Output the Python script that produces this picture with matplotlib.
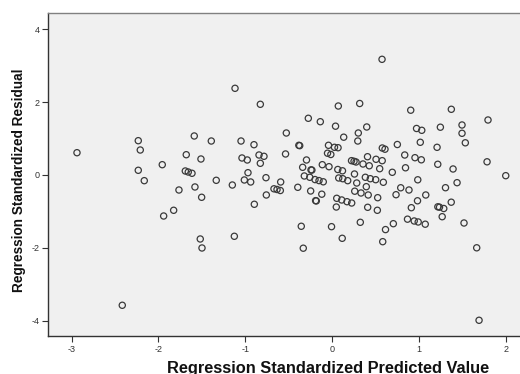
import matplotlib
matplotlib.use("Agg")
import matplotlib.pyplot as plt

plt.rcParams['font.family'] = ['Liberation Sans', 'DejaVu Sans']
plt.rcParams['axes.unicode_minus'] = False

predicted = [
    -2.937, -2.232, -2.209, -2.232, -2.163, -1.956, -1.588, -1.680, -1.511, -1.392,
    -1.691, -1.657, -1.614, -1.764, -1.580, -1.335, -1.150, -1.119, -1.050, -1.039,
    -0.978, -0.901, -0.970, -1.012, -0.939, -0.828, -0.843, -0.786, -0.828, -1.503,
    -0.897, -1.940, -1.825, -1.519, -1.499, -1.127, -2.416,
    0.572, 0.069, 0.315, -0.276, -0.138, 0.037, 0.396, -0.529, 0.299, 0.131,
    0.293, -0.385, -0.375, -0.044, 0.025, 0.066, 0.575, 0.606, -0.538, -0.055,
    -0.017, -0.297, -0.341, -0.245, -0.235, -0.115, -0.038, 0.063, 0.117, 0.221,
    0.250, 0.273, 0.405, 0.353, 0.425, 0.503, 0.574, 0.545, -0.763, -0.594,
    -0.322, -0.259, -0.199, -0.153, -0.104, 0.074, 0.120, 0.177, 0.255, 0.281,
    0.380, 0.437, 0.499, 0.587, 0.391, -0.671, -0.636, -0.598, -0.397, -0.249,
    -0.759, -0.121, 0.258, 0.330, 0.413, -0.192, -0.184, 0.051, 0.108, 0.169,
    0.223, 0.046, 0.522, 0.407, 0.518, -0.357, -0.009, 0.322, 0.612, 0.114,
    0.580, -0.334,
    0.902, 1.369, 1.791, 0.969, 1.029, 1.243, 1.492, 1.492, 1.530, 0.748,
    1.012, 1.205, 0.833, 0.951, 1.024, 1.213, 1.389, 1.780, 1.995, 0.842,
    0.690, 0.983, 0.787, 0.882, 0.733, 1.075, 1.302, 1.435, 0.980, 0.909,
    1.214, 1.233, 1.282, 1.368, 1.264, 1.515, 0.702, 0.865, 0.942, 0.988,
    1.069, 1.661, 1.688,
]

residual = [
    0.612, 0.942, 0.686, 0.129, -0.156, 0.283, 1.071, 0.557, 0.439, 0.933,
    0.110, 0.082, 0.047, -0.412, -0.329, -0.146, -0.275, 2.380, 0.933, 0.467,
    0.412, 0.832, 0.063, -0.137, -0.192, 1.941, 0.549, 0.513, 0.321, -0.612,
    -0.804, -1.126, -0.969, -1.757, -2.004, -1.683, -3.577,
    3.176, 1.894, 1.963, 1.557, 1.463, 1.340, 1.318, 1.153, 1.153, 1.038,
    0.933, 0.815, 0.805, 0.815, 0.760, 0.749, 0.741, 0.708, 0.577, 0.598,
    0.563, 0.412, 0.211, 0.140, 0.135, 0.283, 0.228, 0.151, 0.115, 0.393,
    0.376, 0.357, 0.502, 0.302, 0.253, 0.431, 0.393, 0.173, -0.074, -0.192,
    -0.027, -0.063, -0.126, -0.154, -0.187, -0.082, -0.102, -0.156, 0.027, -0.220,
    -0.063, -0.102, -0.129, -0.200, -0.321, -0.379, -0.398, -0.426, -0.338, -0.439,
    -0.549, -0.527, -0.445, -0.494, -0.549, -0.705, -0.712, -0.640, -0.686, -0.733,
    -0.769, -0.879, -0.623, -0.887, -0.969, -1.408, -1.419, -1.299, -1.499, -1.738,
    -1.831, -2.010,
    1.779, 1.804, 1.510, 1.277, 1.227, 1.312, 1.373, 1.145, 0.884, 0.837,
    0.898, 0.760, 0.549, 0.475, 0.417, 0.294, 0.165, 0.362, -0.019, 0.198,
    0.074, -0.132, -0.351, -0.412, -0.541, -0.549, -0.349, -0.211, -0.708, -0.898,
    -0.873, -0.884, -0.920, -0.747, -1.145, -1.318, -1.337, -1.213, -1.263, -1.290,
    -1.351, -1.999, -3.989,
]

x_ticks = [-3, -2, -1, 0, 1, 2]
y_ticks = [-4, -2, 0, 2, 4]
x_label = "Regression Standardized Predicted Value"
y_label = "Regression Standardized Residual"

fig = plt.figure(figsize=(5.2, 3.74), dpi=100)
ax = fig.add_axes([0.0917, 0.1003, 0.9083, 0.8641])
ax.set_facecolor('#f0f0f0')

ax.scatter(predicted, residual, s=20, facecolors='none', edgecolors='#3a3a3a',
           linewidths=0.9, zorder=3)

ax.set_xlim(-3.274, 2.159)
ax.set_ylim(-4.434, 4.439)
ax.set_xticks(x_ticks)
ax.set_yticks(y_ticks)
ax.set_xticklabels([str(t) for t in x_ticks])
ax.set_yticklabels([str(t) for t in y_ticks])
ax.tick_params(axis='both', direction='out', length=4, width=0.8, colors='#333333',
               labelsize=6.5, pad=2)

ax.spines['right'].set_visible(False)
ax.spines['top'].set_color('#808080')
ax.spines['top'].set_linewidth(1.0)
ax.spines['left'].set_color('#333333')
ax.spines['bottom'].set_color('#333333')
ax.spines['left'].set_linewidth(1.0)
ax.spines['bottom'].set_linewidth(1.0)

fig.text(328 / 520, 1 - 372.5 / 374, x_label, fontsize=11.8, fontweight='bold',
         ha='center', va='baseline', color='#111111')
fig.text(18.7 / 520, 1 - 180 / 374, y_label, fontsize=9.8, fontweight='bold',
         rotation=90, ha='center', va='center', color='#111111')

fig.savefig("out.png", dpi=100, facecolor='white')
